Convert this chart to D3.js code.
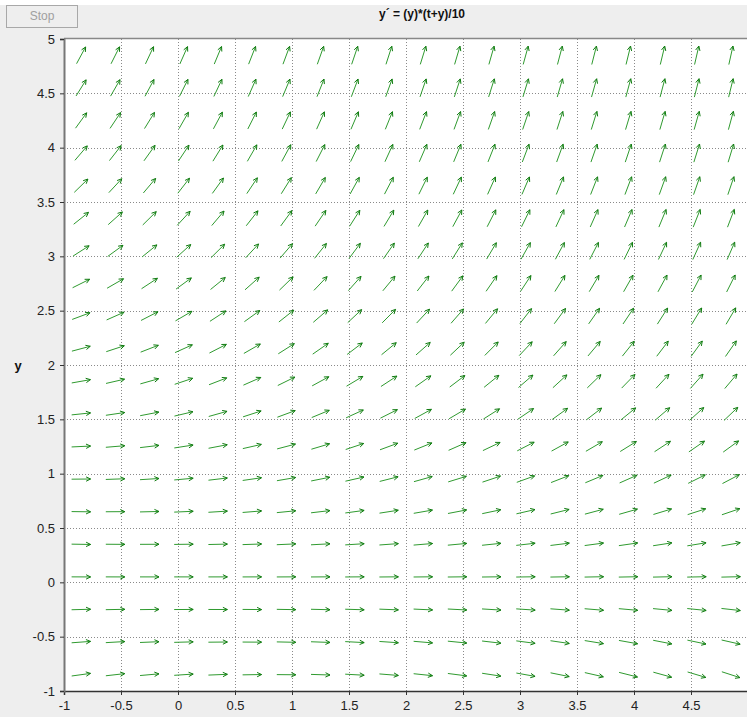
<!DOCTYPE html>
<html><head><meta charset="utf-8">
<script src="https://cdn.jsdelivr.net/npm/d3@7"></script>
<style>html,body{margin:0;padding:0;background:#fff;} svg{display:block;}</style>
</head><body>
<script>
const titleText = "y\u00B4 = (y)*(t+y)/10";
const xTicks = [-1,-0.5,0,0.5,1,1.5,2,2.5,3,3.5,4,4.5];
const yTicks = [-1,-0.5,0,0.5,1,1.5,2,2.5,3,3.5,4,4.5,5];
const tPoints = [-0.85,-0.55,-0.25,0.05,0.35,0.65,0.95,1.25,1.55,1.85,2.15,2.45,2.75,3.05,3.35,3.65,3.95,4.25,4.55,4.85];
const yPoints = [-0.85,-0.55,-0.25,0.05,0.35,0.65,0.95,1.25,1.55,1.85,2.15,2.45,2.75,3.05,3.35,3.65,3.95,4.25,4.55,4.85];
// slope of the equation shown in the title: y' = (y)*(t+y)/10
const slope = (t, y) => y * (t + y) / 10;

(function(){
const W = 747, H = 717;
const svg = d3.select("body").append("svg").attr("width", W).attr("height", H);
svg.append("rect").attr("width", W).attr("height", H).attr("fill", "#ffffff");
svg.append("rect").attr("x", 0).attr("y", 5).attr("width", W).attr("height", H - 5).attr("fill", "#eeeeee");

const pLeft = 64, pTop = 39, pBottom = 691;
const x = d3.scaleLinear().domain([-1, 5]).range([pLeft, pLeft + 684]);
const y = d3.scaleLinear().domain([-1, 5]).range([pBottom, pTop]);

svg.append("rect").attr("x", pLeft).attr("y", pTop).attr("width", x(5) - pLeft).attr("height", pBottom - pTop).attr("fill", "#ffffff");

// grid
const g = svg.append("g");
g.selectAll("line.vg").data(xTicks.filter(d => d > -1)).join("line")
  .attr("x1", d => Math.round(x(d)) + 0.5).attr("x2", d => Math.round(x(d)) + 0.5)
  .attr("y1", pTop).attr("y2", pBottom)
  .attr("stroke", "#8a8a8a").attr("stroke-dasharray", "1,2").attr("stroke-width", 1);
g.selectAll("line.hg").data(yTicks.filter(d => d > -1 && d < 5)).join("line")
  .attr("y1", d => Math.round(y(d)) + 0.5).attr("y2", d => Math.round(y(d)) + 0.5)
  .attr("x1", pLeft).attr("x2", W)
  .attr("stroke", "#8a8a8a").attr("stroke-dasharray", "1,2").attr("stroke-width", 1);

// top border
svg.append("line").attr("x1", pLeft).attr("x2", W).attr("y1", pTop - 0.5).attr("y2", pTop - 0.5)
  .attr("stroke", "#888").attr("stroke-width", 1.5);

// axes
const xAxis = d3.axisBottom(x).tickValues(xTicks).tickSize(4).tickFormat(d => String(d));
const yAxis = d3.axisLeft(y).tickValues(yTicks).tickSize(4).tickFormat(d => String(d));
const gx = svg.append("g").attr("transform", `translate(0,${pBottom})`).call(xAxis);
const gy = svg.append("g").attr("transform", `translate(${pLeft},0)`).call(yAxis);
gx.select(".domain").attr("stroke", "#333").attr("stroke-width", 1.5);
gy.select(".domain").attr("stroke", "#777").attr("stroke-width", 2);
[gx, gy].forEach(a => {
  a.selectAll(".tick line").attr("stroke", "#333");
  a.selectAll(".tick text").attr("fill", "#222").style("font-family", "'Liberation Sans', Arial, sans-serif").style("font-size", "13px");
});
gx.selectAll(".tick text").attr("dy", "0.95em");
gy.selectAll(".tick text").attr("x", -9);

// arrows
const L = 19, headLen = 5, headAng = 0.45;
const arrows = [];
tPoints.forEach(t => yPoints.forEach(v => arrows.push({t, v, s: slope(t, v)})));
const ag = svg.append("g").attr("stroke-width", 1).attr("fill", "none");
arrows.forEach(a => {
  const cx = x(a.t), cy = y(a.v);
  let dx = x(a.t + 1) - x(a.t), dy = y(a.v + a.s) - y(a.v);
  const n = Math.hypot(dx, dy); dx /= n; dy /= n;
  const x1 = cx - dx * L / 2, y1 = cy - dy * L / 2, x2 = cx + dx * L / 2, y2 = cy + dy * L / 2;
  const ang = Math.atan2(dy, dx);
  const hx1 = x2 - headLen * Math.cos(ang - headAng), hy1 = y2 - headLen * Math.sin(ang - headAng);
  const hx2 = x2 - headLen * Math.cos(ang + headAng), hy2 = y2 - headLen * Math.sin(ang + headAng);
  ag.append("path").attr("d", `M${x1},${y1}L${x2},${y2}`).attr("stroke", "#2f9a2f");
  ag.append("path").attr("d", `M${hx1},${hy1}L${x2},${y2}L${hx2},${hy2}`).attr("stroke", "#0f7a0f");
});

// title
svg.append("text").attr("x", 422).attr("y", 18).attr("text-anchor", "middle")
  .style("font-family", "'Liberation Sans', Arial, sans-serif").style("font-size", "12px").style("font-weight", "bold")
  .attr("fill", "#111").text(titleText);
// y label
svg.append("text").attr("x", 18).attr("y", 370).attr("text-anchor", "middle")
  .style("font-family", "'Liberation Sans', Arial, sans-serif").style("font-size", "13px").style("font-weight", "bold")
  .attr("fill", "#111").text("y");
// Stop button
svg.append("rect").attr("x", 6.5).attr("y", 5.5).attr("width", 71).attr("height", 22)
  .attr("fill", "#eeeeee").attr("stroke", "#a8a8a8");
svg.append("text").attr("x", 42).attr("y", 20).attr("text-anchor", "middle")
  .style("font-family", "'Liberation Sans', Arial, sans-serif").style("font-size", "12px")
  .attr("fill", "#a0a0a0").text("Stop");
})();
</script>
</body></html>
